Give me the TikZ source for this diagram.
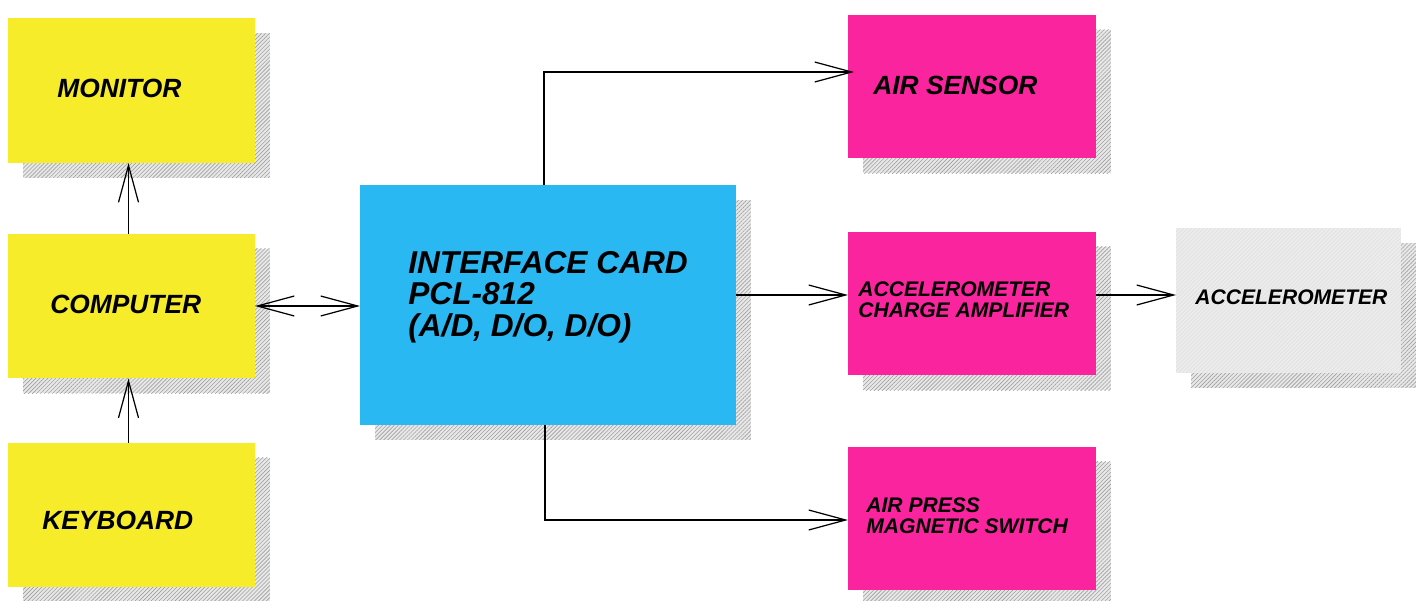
\documentclass[tikz,border=0pt]{standalone}
\usepackage{fontspec}
\setmainfont{Liberation Sans}
\usetikzlibrary{arrows.meta,calc,patterns.meta,backgrounds}
\definecolor{boxyellow}{RGB}{246,236,42}
\definecolor{boxpink}{RGB}{250,36,158}
\definecolor{boxblue}{RGB}{42,184,242}
\definecolor{boxgrey}{RGB}{236,236,236}

\begin{document}
\begin{tikzpicture}[x=0.02cm,y=-0.02cm,
    arr/.style={line width=0.7pt,-{Straight Barb[length=0.74cm,width=0.4cm,line width=0.7pt]}},
    darr/.style={line width=0.7pt,{Straight Barb[length=0.74cm,width=0.4cm,line width=0.7pt]}-{Straight Barb[length=0.74cm,width=0.4cm,line width=0.7pt]}},
    blk/.style={inner sep=0pt,outer sep=0pt},
    ybox/.style={blk,fill=boxyellow,minimum width=4.94cm,minimum height=2.9cm},
    pbox/.style={blk,fill=boxpink,minimum width=4.96cm,minimum height=2.88cm},
    shade/.style={preaction={fill=gray!18},pattern={Lines[angle=45,distance=1.6pt,line width=0.35pt]},pattern color=gray!75},
    txt/.style={inner sep=0pt,anchor=west,align=left,font=\bfseries\itshape\fontsize{15}{15}\selectfont},
    smalltxt/.style={txt,font=\bfseries\itshape\fontsize{12}{12}\selectfont}]
  \useasboundingbox (0,0) rectangle (1423,601);

  % left column
  \node[ybox] (monitor) at (131.5,90.5) {};
  \node[ybox] (computer) at (131.5,306) {};
  \node[ybox] (keyboard) at (131.5,515) {};
  % interface card
  \node[blk,fill=boxblue,minimum width=7.52cm,minimum height=4.8cm] (card) at (548,305) {};
  % right column
  \node[pbox] (airsensor) at (972,86.5) {};
  \node[pbox] (chargeamp) at (972,303.5) {};
  \node[pbox] (airpress) at (972,518.5) {};
  \node[blk,minimum width=4.5cm,minimum height=2.9cm,
        preaction={fill=boxgrey},pattern={Lines[angle=45,distance=1.6pt,line width=0.3pt]},pattern color=gray!25] (accel) at (1288.5,300.5) {};

  % shadows
  \begin{scope}[on background layer]
    \foreach \b in {monitor,computer,keyboard,card,airsensor,chargeamp,airpress,accel}
      \fill[shade] ($(\b.south west)+(15,15)$) rectangle ($(\b.north east)+(15,15)$);
  \end{scope}

  % labels
  \node[txt] (monitortxt) at (57,88) {MONITOR};
  \node[txt] (computertxt) at (50,304) {COMPUTER};
  \node[txt] (keyboardtxt) at (42,520) {KEYBOARD};
  \node[txt,font=\bfseries\itshape\fontsize{18}{18}\selectfont] (cardtxt) at (408,297)
    {INTERFACE CARD\\PCL-812\\(A/D, D/O, D/O)};
  \node[txt] (airsensortxt) at (873,85) {AIR SENSOR};
  \node[smalltxt] (chargeamptxt) at (858,300) {ACCELEROMETER\\CHARGE AMPLIFIER};
  \node[smalltxt] (airpresstxt) at (866,516) {AIR PRESS\\MAGNETIC SWITCH};
  \node[smalltxt] (acceltxt) at (1195,297) {ACCELEROMETER};

  % connectors
  \draw[arr] ($(computer.north)+(-3,0)$) -- ($(monitor.south)+(-3,0)$);
  \draw[arr] ($(keyboard.north)+(-3,0)$) -- ($(computer.south)+(-3,0)$);
  \draw[darr] (computer.east) -- (computer.east -| card.west);
  \draw[arr] ($(card.north)+(-4,0)$) |- ($(airsensor.west)+(6,-14.5)$);
  \draw[arr] ($(card.east)+(0,-10)$) -- ($(chargeamp.west)+(0,-8.5)$);
  \draw[arr] ($(chargeamp.east)+(0,-8.5)$) -- ($(accel.west)+(0,-5.5)$);
  \draw[arr] ($(card.south)+(-3,0)$) |- ($(airpress.west)+(0,1.5)$);
\end{tikzpicture}
\end{document}
